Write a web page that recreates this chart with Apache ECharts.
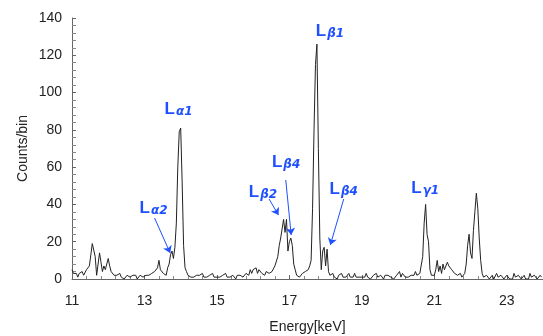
<!DOCTYPE html>
<html>
<head>
<meta charset="utf-8">
<script src="https://cdn.jsdelivr.net/npm/echarts@6/dist/echarts.min.js"></script>
<style>html,body{margin:0;padding:0;background:#fff}#c{width:543px;height:336px}</style>
</head>
<body>
<div id="c"></div>
<script>
// Spectrum: counts per 0.04 keV bin, one array per keV (bins start at 11.00 keV)
const binStart = 11.0;
const binWidth = 0.04;
const seg11 = [5,3,2,3,1,3,2,4,2,3,5,4,7,13,19,20,12,2,3,14,9,4,7,5,6];
const seg12 = [11,7,4,3,2,1,2,1,3,1,2,0,1,2,3,1,1,2,1,2,0,1,2,1,1];
const seg13 = [1,2,1,2,1,3,2,4,3,6,10,5,6,3,4,2,6,8,13,15,11,17,30,60,79];
const seg14 = [81,52,18,6,4,2,3,1,2,1,0,2,1,2,1,3,1,2,1,0,2,1,3,1,2];
const seg15 = [1,2,1,0,2,1,3,1,2,1,1,2,1,0,2,1,2,3,1,2,3,4,2,5,3];
const seg16 = [5,4,6,3,5,4,3,4,2,4,3,3,2,4,5,7,8,12,18,22,22,32,25,32,15];
const seg17 = [20,22,18,8,5,2,3,1,2,3,2,4,3,5,7,10,38,80,115,126,70,22,5,15,17];
const seg18 = [7,16,4,2,1,3,1,2,0,2,1,3,1,2,1,2,3,1,2,1,3,1,2,1,2];
const seg19 = [1,2,1,3,1,2,0,1,2,1,3,1,1,2,1,0,2,1,2,1,1,2,0,1,2];
const seg20 = [2,4,1,3,2,1,2,1,0,2,3,2,4,2,3,3,4,12,30,40,24,20,5,2,2];
const seg21 = [2,5,10,4,7,3,8,5,6,9,7,8,5,6,3,4,2,1,3,1,2,3,8,18,24];
const seg22 = [14,11,26,36,46,38,22,10,3,1,0,2,1,0,1,2,0,1,3,1,0,2,1,0,1];
const seg23 = [2,1,0,1,0,3,1,0,2,1,0,1,2,0,1,0,3,1,0,2,1,0,1,2,1];
const counts = [].concat(seg11,seg12,seg13,seg14,seg15,seg16,seg17,seg18,seg19,seg20,seg21,seg22,seg23);

const xTickLabels = [11,13,15,17,19,21,23];
const yTickLabels = [0,20,40,60,80,100,120,140];

// Peak annotations (label text, energy keV, counts)
const peakNames = ['α1','α2','β1','β2','β4','β4','γ1'];
const peakLabelE = [13.94,13.25,18.12,16.27,16.91,18.5,20.75];
const peakLabelC = [92,38.6,133.6,47.2,63.3,48.8,49.4];
// Arrows: [fromE, fromC, toE, toC]
const arrows = [
  [13.28,32.7,13.71,13.9],
  [16.44,42.9,16.70,34.3],
  [16.90,53.1,17.05,23.6],
  [18.50,42.9,18.13,18.2]
];

const E0 = 11; // axis offset so that major ticks start at 11
const blue = '#1e50ff';
const data = counts.map((c,i)=>[+(i*binWidth + binStart - E0).toFixed(4), c]);

const chart = echarts.init(document.getElementById('c'), null, {renderer:'canvas'});
chart.setOption({
  animation:false,
  backgroundColor:'#fff',
  textStyle:{fontFamily:'Liberation Sans, Arial, sans-serif'},
  grid:{left:72,right:0,top:18,bottom:57,containLabel:false,outerBoundsMode:'none'},
  xAxis:{
    type:'value', min:0, max:13, interval:2,
    name:'Energy[keV]', nameLocation:'middle', nameGap:41, nameMoveOverlap:false,
    nameTextStyle:{fontSize:14,color:'#222'},
    axisLine:{lineStyle:{color:'#666',width:1}},
    axisTick:{show:true,inside:true,length:4,lineStyle:{color:'#666'}},
    minorTick:{show:true,splitNumber:5,length:3,lineStyle:{color:'#888'}},
    splitLine:{show:false},
    axisLabel:{fontSize:14,color:'#222',margin:15,
      formatter:v=>{const e=Math.round(v+E0);return xTickLabels.indexOf(e)>=0?String(e):'';}}
  },
  yAxis:{
    type:'value', min:0, max:140, interval:20,
    name:'Counts/bin', nameLocation:'middle', nameGap:42, nameMoveOverlap:false,
    nameTextStyle:{fontSize:14,color:'#222'},
    axisLine:{show:true,lineStyle:{color:'#666',width:1}},
    axisTick:{show:true,inside:true,length:4,lineStyle:{color:'#666'}},
    minorTick:{show:true,splitNumber:5,length:4,lineStyle:{color:'#888'}},
    splitLine:{show:false},
    axisLabel:{fontSize:14,color:'#222',margin:10,
      formatter:v=>yTickLabels.indexOf(v)>=0?String(v):''}
  },
  series:[{
    type:'line', data:data, symbol:'none', silent:true,
    lineStyle:{color:'#222',width:1},
    markPoint:{
      silent:true, symbol:'circle', symbolSize:0,
      label:{show:true,position:'inside',
        formatter:p=>'{L|L}{s|'+p.name+'}',
        rich:{
          L:{fontSize:17,fontWeight:'bold',color:blue,fontFamily:'Liberation Sans',verticalAlign:'bottom',lineHeight:20},
          s:{fontSize:12,fontWeight:'bold',color:blue,fontStyle:'italic',fontFamily:'DejaVu Sans',verticalAlign:'bottom',lineHeight:19,padding:[0,0,0,1]}
        }},
      data: peakNames.map((n,i)=>({name:n,coord:[peakLabelE[i]-E0,peakLabelC[i]]}))
    },
    markLine:{
      silent:true, symbol:['none','arrow'], symbolSize:7,
      lineStyle:{color:blue,width:1,type:'solid'},
      label:{show:false},
      data: arrows.map(a=>[{coord:[a[0]-E0,a[1]]},{coord:[a[2]-E0,a[3]]}])
    }
  }]
});
</script>
</body>
</html>
